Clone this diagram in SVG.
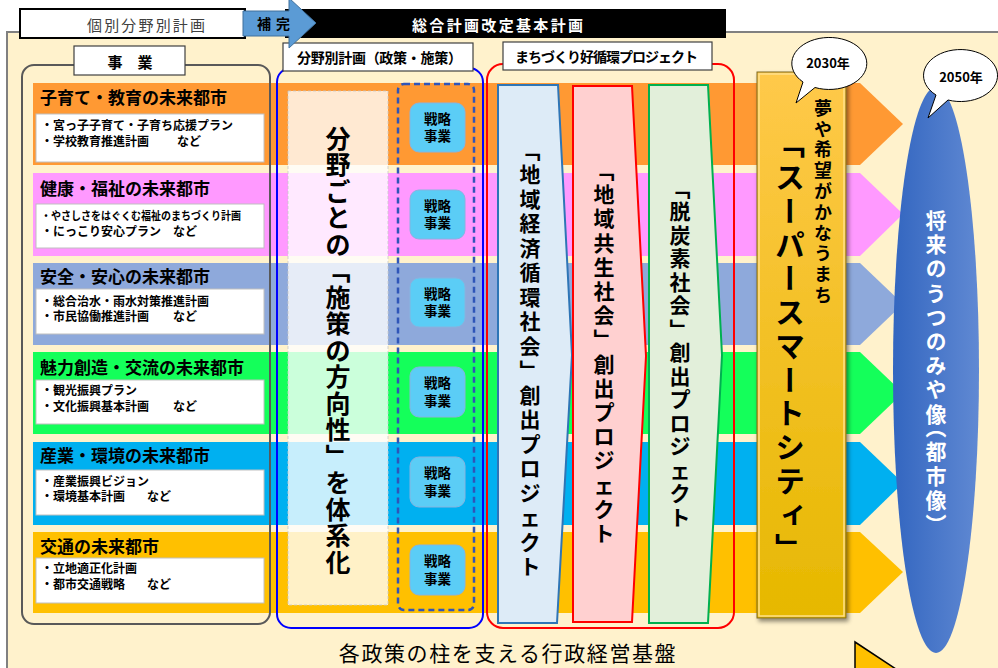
<svg xmlns="http://www.w3.org/2000/svg" width="998" height="668" viewBox="0 0 998 668">
<defs>
<style>
text{font-family:'Noto Sans CJK JP','Noto Sans CJK SC',sans-serif;}
.b{font-weight:bold;}
.rt{font-size:17px;font-weight:bold;fill:#000;}
.bl{font-family:'Liberation Sans','Noto Sans CJK JP',sans-serif;font-size:12px;font-weight:bold;fill:#000;}
.vc{text-anchor:middle;dominant-baseline:central;}
.v{writing-mode:vertical-rl;}
.nv{font-feature-settings:"vert" 0, "vrt2" 0;}
.hv{font-feature-settings:"vhal" 1;}
.band{stroke:none;}
.wbox{fill:#fff;stroke:#BFBFBF;stroke-width:1;}
.lbl{fill:#fff;stroke:#404040;stroke-width:1.2;}
.sen{fill:#5BCDF6;stroke:#86B4E0;stroke-width:1;}
.sent{font-family:'Liberation Sans','Noto Sans CJK JP',sans-serif;font-size:13.5px;font-weight:bold;fill:#000;text-anchor:middle;dominant-baseline:central;}
.col{font-size:21px;font-weight:bold;fill:#000;}
.big{font-size:30px;font-weight:bold;fill:#000;}
.sm{font-size:18px;font-weight:bold;fill:#000;}
.ell{font-size:21px;font-weight:bold;fill:#fff;}
.pale{font-size:25px;font-weight:bold;fill:#000;}
.call{fill:#fff;stroke:#000;stroke-width:1;}
</style>
<linearGradient id="gy" x1="0" y1="0" x2="0" y2="1">
<stop offset="0" stop-color="#FFC94A"/>
<stop offset="1" stop-color="#E6B800"/>
</linearGradient>
<linearGradient id="gb" x1="0" y1="0" x2="1" y2="0">
<stop offset="0" stop-color="#3366C0"/>
<stop offset="1" stop-color="#6089D3"/>
</linearGradient>
<filter id="sh" x="-20%" y="-5%" width="140%" height="110%">
<feDropShadow dx="2" dy="3" stdDeviation="2" flood-color="#000" flood-opacity="0.45"/>
</filter>
</defs>

<rect x="0" y="0" width="998" height="668" fill="#fff"/>
<rect id="panel" x="7" y="32" width="1000" height="650" fill="#FFF2CC" stroke="#808080" stroke-width="2"/>

<g id="bands">
<polygon class="band" fill="#FF9933" points="33,83 860,83 903,124 860,165 33,165"/>
<polygon class="band" fill="#FF99FF" points="33,173 860,173 903,214 860,256 33,256"/>
<polygon class="band" fill="#8EA9DB" points="33,263 860,263 903,304 860,345 33,345"/>
<polygon class="band" fill="#14FF5A" points="33,352 860,352 903,393 860,434 33,434"/>
<polygon class="band" fill="#00B0F0" points="33,442 860,442 903,483 860,525 33,525"/>
<polygon class="band" fill="#FFC000" points="33,532 860,532 903,572 860,613 33,613"/>
</g>

<g id="jigyo">
<rect x="22" y="65" width="248" height="559" rx="12" fill="none" stroke="#595959" stroke-width="2"/>
<rect class="lbl" x="74" y="46" width="111" height="29" stroke-width="1.5"/>
<text class="b vc" x="130" y="61" font-size="15">事　業</text>
</g>

<g id="row1">
<text class="rt" x="40" y="96" dominant-baseline="central">子育て・教育の未来都市</text>
<rect class="wbox" x="36" y="114" width="228" height="48"/>
<text class="bl" x="41" y="126" dominant-baseline="central">・宮っ子子育て・子育ち応援プラン</text>
<text class="bl" x="41" y="142" dominant-baseline="central">・学校教育推進計画<tspan x="177">など</tspan></text>
</g>
<g id="row2">
<text class="rt" x="40" y="187" dominant-baseline="central">健康・福祉の未来都市</text>
<rect class="wbox" x="36" y="204" width="228" height="44"/>
<text class="bl" x="41" y="216" dominant-baseline="central" textLength="200" lengthAdjust="spacingAndGlyphs" style="font-size:11px">・やさしさをはぐくむ福祉のまちづくり計画</text>
<text class="bl" x="41" y="232" dominant-baseline="central">・にっこり安心プラン<tspan x="173">など</tspan></text>
</g>
<g id="row3">
<text class="rt" x="40" y="275" dominant-baseline="central">安全・安心の未来都市</text>
<rect class="wbox" x="36" y="289" width="228" height="45"/>
<text class="bl" x="41" y="302" dominant-baseline="central">・総合治水・雨水対策推進計画</text>
<text class="bl" x="41" y="317" dominant-baseline="central">・市民協働推進計画<tspan x="173">など</tspan></text>
</g>
<g id="row4">
<text class="rt" x="40" y="366" dominant-baseline="central">魅力創造・交流の未来都市</text>
<rect class="wbox" x="36" y="380" width="228" height="44"/>
<text class="bl" x="41" y="391" dominant-baseline="central">・観光振興プラン</text>
<text class="bl" x="41" y="407" dominant-baseline="central">・文化振興基本計画<tspan x="173">など</tspan></text>
</g>
<g id="row5">
<text class="rt" x="40" y="454" dominant-baseline="central">産業・環境の未来都市</text>
<rect class="wbox" x="36" y="470" width="228" height="45"/>
<text class="bl" x="41" y="482" dominant-baseline="central">・産業振興ビジョン</text>
<text class="bl" x="41" y="497" dominant-baseline="central">・環境基本計画<tspan x="147">など</tspan></text>
</g>
<g id="row6">
<text class="rt" x="40" y="545" dominant-baseline="central">交通の未来都市</text>
<rect class="wbox" x="36" y="558" width="228" height="45"/>
<text class="bl" x="41" y="569" dominant-baseline="central">・立地適正化計画</text>
<text class="bl" x="41" y="585" dominant-baseline="central">・都市交通戦略<tspan x="147">など</tspan></text>
</g>

<g id="bunya">
<rect x="277" y="68" width="206" height="560" rx="14" fill="none" stroke="#0000FF" stroke-width="2"/>
<rect x="288" y="91" width="100" height="514" fill="#fff" fill-opacity="0.78" stroke="#C8C8C8" stroke-width="0.8" stroke-dasharray="3 2"/>
<text class="pale v nv" x="338" y="125.5" letter-spacing="1.5">分野ごとの「施策の方向性」を体系化</text>
<rect x="398" y="84" width="76" height="526" rx="6" fill="none" stroke="#2F55B8" stroke-width="2.5" stroke-dasharray="6 4"/>
<rect class="lbl" x="283" y="43" width="190" height="28"/>
<text class="b" x="297" y="57" font-size="14" dominant-baseline="central" textLength="165">分野別計画（政策・施策）</text>
</g>

<g id="senryaku">
<rect class="sen" x="410" y="103" width="55" height="49" rx="9"/>
<text class="sent" x="437.5" y="119">戦略</text><text class="sent" x="437.5" y="136.5">事業</text>
<rect class="sen" x="410" y="190" width="55" height="49" rx="9"/>
<text class="sent" x="437.5" y="206">戦略</text><text class="sent" x="437.5" y="223.5">事業</text>
<rect class="sen" x="410" y="278" width="55" height="49" rx="9"/>
<text class="sent" x="437.5" y="294">戦略</text><text class="sent" x="437.5" y="311.5">事業</text>
<rect class="sen" x="410" y="367" width="55" height="50" rx="9"/>
<text class="sent" x="437.5" y="383.5">戦略</text><text class="sent" x="437.5" y="401">事業</text>
<rect class="sen" x="410" y="457" width="55" height="50" rx="9"/>
<text class="sent" x="437.5" y="473.5">戦略</text><text class="sent" x="437.5" y="491">事業</text>
<rect class="sen" x="410" y="545" width="55" height="50" rx="9"/>
<text class="sent" x="437.5" y="561.5">戦略</text><text class="sent" x="437.5" y="579">事業</text>
</g>

<g id="project">
<rect x="487" y="64" width="247" height="564" rx="16" fill="none" stroke="#FF0000" stroke-width="2"/>
<rect class="lbl" x="503" y="42" width="209" height="28"/>
<text class="b" x="515" y="56" font-size="14" dominant-baseline="central" textLength="183">まちづくり好循環プロジェクト</text>
</g>

<g id="col1">
<polygon points="498,85 558,85 572,355 557,623 498,623" fill="#DDEBF7" stroke="#2E75B6" stroke-width="2"/>
<text class="col v nv" x="530" y="139.5" letter-spacing="3.5">「地域経済循環社会」創出プロジェクト</text>
</g>
<g id="col2">
<polygon points="573,86 632,86 646,356 632,622 573,622" fill="#FFD0D0" stroke="#FF0000" stroke-width="2"/>
<text class="col v nv" x="604" y="159.5" letter-spacing="3.2">「地域共生社会」創出プロジェクト</text>
</g>
<g id="col3">
<polygon points="649,85 708,85 722,355 708,623 649,623" fill="#E2EFDA" stroke="#00B050" stroke-width="2"/>
<text class="col v nv" x="680" y="177.5" letter-spacing="2.5">「脱炭素社会」創出プロジェクト</text>
</g>

<g id="smartcity">
<rect x="757" y="72" width="89" height="546" fill="url(#gy)" stroke="#7F6A20" stroke-width="1" filter="url(#sh)"/>
<rect x="759" y="74" width="85" height="542" fill="none" stroke="#FFE08A" stroke-width="1.5"/>
<text class="sm v" x="823" y="99" letter-spacing="2.8">夢や希望がかなうまち</text>
<text class="big v" x="790" y="128" letter-spacing="3.75"><tspan class="nv">「</tspan>スーパースマートシティ<tspan class="nv">」</tspan></text>
</g>

<g id="future">
<ellipse cx="936" cy="370" rx="43" ry="283" fill="url(#gb)"/>
<text class="ell v hv" x="936" y="209.5" letter-spacing="3.2">将来のうつのみや像（都市像）</text>
</g>

<g id="callout2030">
<path class="call" d="M 803 82 L 796 103 L 815 87.5 A 37.5 26 0 1 0 803 82 Z"/>
<text class="b vc" x="828" y="62" font-size="13">2030年</text>
</g>
<g id="callout2050">
<path class="call" d="M 936 95 L 928 118 L 948 100 A 37 26 0 1 0 936 95 Z"/>
<text class="b vc" x="961" y="76" font-size="13">2050年</text>
</g>

<g id="kiban">
<text x="508" y="652" font-size="21" text-anchor="middle" dominant-baseline="central" letter-spacing="1.6" fill="#000">各政策の柱を支える行政経営基盤</text>
</g>
<polygon id="tri" points="855,642 905,675 855,680" fill="#FFC000" stroke="#000" stroke-width="1.5"/>

<g id="header">
<rect x="285" y="9" width="441" height="29" fill="#000"/>
<text class="b" x="412" y="24" font-size="15" fill="#fff" dominant-baseline="central" textLength="171">総合計画改定基本計画</text>
<rect x="20" y="9" width="225" height="29" fill="#fff" stroke="#000" stroke-width="2"/>
<text x="87" y="24" font-size="15" fill="#404040" dominant-baseline="central" textLength="118">個別分野別計画</text>
<polygon points="243,11 289,11 289,-2 316,23 289,48 289,36 243,36" fill="#5B9BD5" stroke="#41719C" stroke-width="1"/>
<text class="b" x="257" y="23" font-size="14" fill="#000" dominant-baseline="central" textLength="33">補 完</text>
</g>
</svg>
